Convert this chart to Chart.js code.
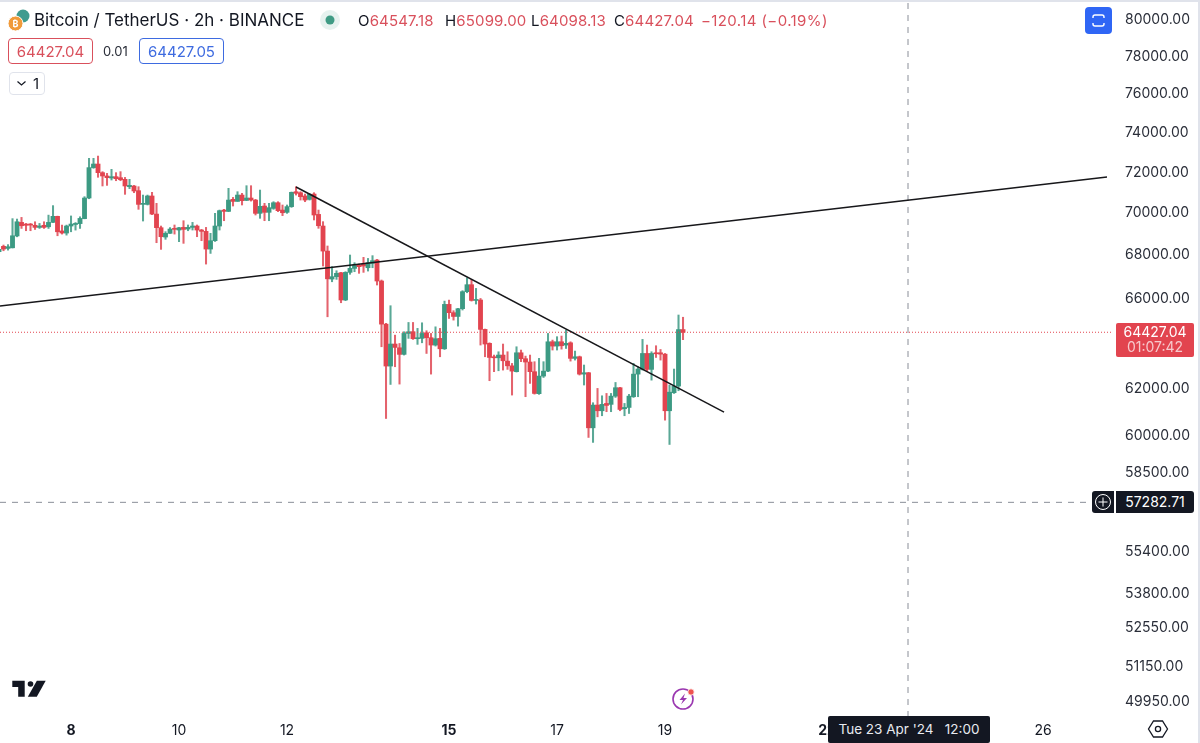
<!DOCTYPE html>
<html>
<head>
<meta charset="utf-8">
<title>Bitcoin / TetherUS</title>
<script src="https://cdn.jsdelivr.net/npm/chart.js@4"></script>
<style>
html,body{margin:0;padding:0;background:#fff;width:1200px;height:743px;overflow:hidden;font-family:Inter,"Noto Sans",sans-serif;color:#131722}
#wrap{position:relative;width:1200px;height:743px}
canvas{position:absolute;left:0;top:0}
.t{position:absolute;white-space:pre;line-height:1}
.r{color:#d9505c}
.box{position:absolute;box-sizing:border-box;border-radius:4px;text-align:center;white-space:pre}
svg{position:absolute;overflow:visible}
</style>
</head>
<body>
<div id="wrap">
<canvas id="c" width="1200" height="743"></canvas>
<div style="position:absolute;left:0;top:0;width:1200px;height:2px;background:#e0e3eb"></div>
<div style="position:absolute;left:1198px;top:0;width:2px;height:743px;background:#e0e3eb"></div>

<svg style="left:0;top:0" width="40" height="36">
 <circle cx="23" cy="16" r="6.5" fill="#3f9b8f"/><circle cx="15.5" cy="23.5" r="7.5" fill="#f09a3a" stroke="#fff" stroke-width="1"/>
 <text x="15.5" y="27" font-size="9" font-weight="700" fill="#fff" text-anchor="middle" font-family="Inter">₿</text>
</svg>
<div class="t" style="left:34px;top:12px;font-size:17px">Bitcoin / TetherUS · 2h · BINANCE</div>
<svg style="left:320px;top:10px" width="20" height="20"><circle cx="10" cy="10" r="10" fill="#e6f2ef"/><circle cx="10" cy="10" r="4.5" fill="#3f9b84"/></svg>
<div class="t" style="left:358px;top:13px;font-size:15px;letter-spacing:.15px">O<span class="r">64547.18</span></div>
<div class="t" style="left:445px;top:13px;font-size:15px;letter-spacing:.15px">H<span class="r">65099.00</span></div>
<div class="t" style="left:531px;top:13px;font-size:15px;letter-spacing:.15px">L<span class="r">64098.13</span></div>
<div class="t" style="left:614px;top:13px;font-size:15px;letter-spacing:.15px">C<span class="r">64427.04</span></div>
<div class="t r" style="left:701px;top:13px;font-size:15px;letter-spacing:.4px">−120.14 (−0.19%)</div>

<div class="box r" style="left:8px;top:38px;width:85px;height:26px;border:1px solid #d9505c;font-size:15px;line-height:25px">64427.04</div>
<div class="t" style="left:103px;top:45px;font-size:13px;color:#2a2e39">0.01</div>
<div class="box" style="left:139px;top:38px;width:85px;height:26px;border:1px solid #3e6be0;font-size:15px;line-height:25px;color:#3e6be0">64427.05</div>
<div class="box" style="left:9px;top:72px;width:36px;height:23px;border:1px solid #e0e3eb;font-size:15px;line-height:22px;text-align:left;padding-left:23px;color:#131722">1</div>
<svg style="left:16px;top:80px" width="12" height="8"><path d="M1.5 1.5 L5.5 5 L9.5 1.5" fill="none" stroke="#131722" stroke-width="1.2"/></svg>

<div style="position:absolute;left:1085px;top:7px;width:27px;height:27px;border-radius:4px;background:#2f66f5"></div>
<svg style="left:1085px;top:7px" width="27" height="27"><path d="M8 11 V10 a2 2 0 0 1 2-2 H17 a2 2 0 0 1 2 2 V11 M8 16 V17 a2 2 0 0 0 2 2 H17 a2 2 0 0 0 2-2 V16" fill="none" stroke="#fff" stroke-width="1.4"/></svg>

<div class="box" style="left:1116px;top:323px;width:78px;height:34px;background:#e2444f;color:#fff;font-size:14px;line-height:15px;padding-top:1px;border-radius:2px">64427.04
<span style="color:#f7c9cd">01:07:42</span></div>

<div class="box" style="left:1092px;top:491px;width:22px;height:22px;background:#131722;border-radius:3px 0 0 3px"></div>
<svg style="left:1092px;top:491px" width="22" height="22"><circle cx="11" cy="11" r="7.5" fill="none" stroke="#fff" stroke-width="1"/><path d="M11 6.5V15.5M6.5 11H15.5" stroke="#fff" stroke-width="1"/></svg>
<div class="box" style="left:1116px;top:491px;width:78px;height:22px;background:#131722;color:#fff;font-size:14px;line-height:22px;border-radius:0 3px 3px 0">57282.71</div>

<svg style="left:12px;top:680px" width="34" height="18" viewBox="0 0 34 18"><path fill="#131722" d="M0.3 0.7H12.7V16.7H6.2V7H0.3Z"/><circle cx="18.5" cy="4" r="2.8" fill="#131722"/><path fill="#131722" d="M24.8 0.7H33.7L24.8 16.7H15.8Z"/></svg>

<svg style="left:672px;top:687px" width="24" height="24"><circle cx="11" cy="12" r="10" fill="none" stroke="#9a37b0" stroke-width="1.6"/><path d="M13 6.5 L7.5 13 H11 L9 17.5 L15 11 H11.5Z" fill="#9a37b0"/><circle cx="19" cy="5" r="3.2" fill="#ef5350" stroke="#fff" stroke-width=".8"/></svg>

<svg style="left:1147px;top:719px" width="22" height="20"><path d="M6.5 2 H15.5 L20.5 10 L15.5 18 H6.5 L1.5 10Z" fill="none" stroke="#131722" stroke-width="1.3"/><circle cx="11" cy="10" r="2.6" fill="none" stroke="#131722" stroke-width="1.3"/></svg>

<div class="box" style="left:828px;top:716px;width:162px;height:27px;background:#131722;color:#e8eaf0;font-size:13.5px;line-height:26px;border-radius:2px">Tue 23 Apr '24   12:00</div>
</div>

<script>
// Candles of the BTC/USDT 2h chart, oldest first (one every two hours)
const firstCandleDay = 6 + 16 / 24; // 6 Apr 16:00
const opens = [
68120,68370,68270,68300,68860,69510,69430,69430,69370,69270,
69370,69300,69510,69800,69100,69000,69335,69410,69450,69690,
70690,72190,72370,71940,71775,71675,71740,71690,71610,71245,
71280,71050,70380,70380,70790,69910,69255,68810,68985,69220,
69143,69270,69190,69270,69335,69143,69080,68240,68635,69335,
70105,70040,70625,70525,70835,70575,70690,70590,69945,70300,
69995,70185,70460,70105,69995,70270,71000,70950,70790,70625,
70885,69895,69335,68145,66840,66950,67135,65880,67150,67335,
67490,67535,67365,67570,67725,66750,64790,62940,63905,63740,
63450,64375,64450,64140,64155,64405,64185,63860,64155,63695,
65680,65305,65135,65485,66260,66580,65860,65880,64555,63935,
63345,63300,63420,63155,62950,62695,63520,63260,63115,62695,
61750,62505,62720,64005,63815,64005,63860,63960,63275,63345,
62590,62650,60310,61265,61025,61335,61295,61645,62005,61110,
61165,61620,62590,62795,63490,62795,63520,63520,63460,61025,
61790,62075,64547.18];
const highs = [
68350,68430,68450,69690,69670,69750,69460,69460,69540,69460,
69540,69860,70320,69810,69380,69380,69820,69500,69780,70755,
72655,72655,72770,71990,71905,72105,71940,71990,71705,71610,
71310,71245,70835,70835,70970,70430,69335,69065,69260,69385,
69270,69590,69385,69510,69385,69175,69270,68985,69945,70105,
70140,71165,70720,71000,70920,71295,71295,70625,71080,70430,
70430,70510,70510,70350,70350,70985,71245,71000,70885,70920,
70950,70105,69545,68385,67415,67225,67150,67180,67960,67600,
67535,67850,67800,67930,67755,66795,64825,65620,64300,63930,
64450,64865,64865,64600,64850,64495,64375,64670,64600,65830,
65875,65395,65500,66305,66900,66825,66410,65950,64570,63960,
63420,63565,63905,63565,63055,63785,63640,63375,63420,63130,
63275,63130,64375,64080,64230,64260,64525,64005,63595,63375,
62985,62665,61365,61975,61660,61760,61760,62230,62020,61335,
61720,63055,62910,64110,63860,63565,63830,63665,63490,62120,
62810,65200,65099];
const lows = [
68040,68160,68190,68290,68820,69220,69110,69110,69170,69220,
69220,69220,69500,68870,68950,68900,69060,69140,69220,69680,
70655,72155,71710,71280,71310,71575,71540,71540,70870,71150,
70950,70140,69575,70350,69880,68540,68225,68700,68980,68950,
68590,68510,69110,69143,68825,68635,67535,68035,68600,69143,
69590,70025,70300,70525,70350,70560,70540,69865,69705,69590,
69590,70140,70025,69835,69945,70235,70835,70590,70510,70590,
69625,69225,67445,65120,66715,66825,65755,65850,67060,67180,
67105,67150,67210,67365,66565,63785,60700,62145,62910,62160,
63420,64155,64110,63890,63960,63490,62590,63815,63345,63665,
65045,64970,64700,65425,66210,65830,65695,63860,63345,62305,
62695,62735,62765,62795,61690,62680,63130,61620,62190,61730,
61720,62445,62695,63640,63640,63680,63710,63155,63200,62550,
62120,59910,59705,60770,60815,60985,60985,61590,61025,60815,
60910,61590,61620,62765,62735,62330,63315,63200,60630,59620,
61760,61875,64098.13];
const closes = [
68230,68240,68350,68870,69540,69350,69370,69380,69270,69335,
69270,69510,69800,69060,69000,69335,69430,69460,69700,70690,
72190,72370,71940,71775,71690,71740,71640,71590,71280,71310,
71035,70380,70430,70790,69910,69255,68825,68985,69190,69175,
69255,69175,69270,69335,69143,69080,68240,68635,69335,70075,
70040,70590,70525,70835,70560,70690,70590,69945,70285,69995,
70220,70460,70075,69975,70270,70970,70920,70755,70590,70870,
69865,69350,68145,66850,66950,67105,65880,67150,67335,67490,
67415,67445,67600,67695,66750,64790,62940,63905,63755,63450,
64375,64450,64140,64185,64375,64185,63860,64140,63695,65680,
65305,65135,65485,66260,66580,65860,65905,64555,63905,63315,
63300,63420,63170,62950,62720,63520,63260,63115,62695,61760,
62505,62720,64005,63815,64005,63830,63935,63275,63345,62590,
62650,60310,61265,61025,61295,61250,61645,62005,61080,61165,
61645,62590,62810,63490,62795,63490,63475,63460,61025,61815,
62075,64547,64427.04];

// Drawn lines (day of April, price)
const risingLineDays = [6.685, 27.185];
const risingLinePrices = [65605, 71724];
const fallingLineDays = [12.167, 20.093];
const fallingLinePrices = [71230, 60969];

// Price line and crosshair
const lastPrice = 64427.04;
const crossPrice = 57282.71;
const crossDay = 23.5;

// Axes
const priceTicks = [80000,78000,76000,74000,72000,70000,68000,66000,62000,60000,58500,55400,53800,52550,51150,49950];
const dayTicks = [8,10,12,15,17,19,22,24,26];
const boldDays = [8,15,22];
const dayMin = 6.685, dayMax = 27.296;
const priceMin = 49385, priceMax = 81057;

const GREEN = '#3c9a83', RED = '#e2444f', GREEN_W = '#5aa896', RED_W = '#e4636d';
const days = closes.map((_, i) => firstCandleDay + i / 12);
const isUp = i => closes[i] >= opens[i];

new Chart(document.getElementById('c'), {
  type: 'bar',
  data: {
    datasets: [
      { type:'bar', label:'wicks', order:5, grouped:false, barThickness:1.4, categoryPercentage:1, barPercentage:1,
        data: days.map((d,i)=>({x:d,y:[lows[i],highs[i]]})),
        backgroundColor: ctx => isUp(ctx.dataIndex) ? GREEN_W : RED_W },
      { type:'bar', label:'bodies', order:4, grouped:false, barThickness:4.2, categoryPercentage:1, barPercentage:1, minBarLength:1,
        data: days.map((d,i)=>({x:d,y:[opens[i],closes[i]]})),
        backgroundColor: ctx => isUp(ctx.dataIndex) ? GREEN : RED },
      { type:'line', label:'rising', order:1, pointRadius:0, borderWidth:1.5, borderColor:'#17171a',
        data: risingLineDays.map((d,i)=>({x:d,y:risingLinePrices[i]})) },
      { type:'line', label:'falling', order:1, pointRadius:0, borderWidth:1.5, borderColor:'#17171a',
        data: fallingLineDays.map((d,i)=>({x:d,y:fallingLinePrices[i]})) },
      { type:'line', label:'last', order:3, pointRadius:0, borderWidth:1, borderColor:RED, borderDash:[1,2],
        data: [{x:dayMin,y:lastPrice},{x:dayMax,y:lastPrice}] },
      { type:'line', label:'crossH', order:3, pointRadius:0, borderWidth:1, borderColor:'#8a8e98', borderDash:[6,6],
        data: [{x:dayMin,y:crossPrice},{x:dayMax,y:crossPrice}] },
      { type:'line', label:'crossV', order:3, pointRadius:0, borderWidth:1, borderColor:'#8a8e98', borderDash:[6,6],
        data: [{x:crossDay,y:priceMin},{x:crossDay,y:priceMax}] }
    ]
  },
  options: {
    responsive:false, animation:false, events:[],
    layout:{padding:0},
    plugins:{legend:{display:false},tooltip:{enabled:false},title:{display:false}},
    scales:{
      x:{ type:'linear', offset:false, min:dayMin, max:dayMax, bounds:'data',
        grid:{display:false,drawTicks:false}, border:{display:false},
        afterBuildTicks:s=>{s.ticks=dayTicks.map(v=>({value:v}));},
        afterFit:s=>{s.height=26;s.paddingLeft=0;s.paddingRight=0;},
        ticks:{ autoSkip:false, maxRotation:0, padding:5, color:'#131722',
          callback:v=>String(v),
          font:ctx=>({family:'Inter',size:14,weight:boldDays.includes(ctx.tick&&ctx.tick.value)?'700':'400'}) } },
      y:{ type:'logarithmic', position:'right', min:priceMin, max:priceMax, bounds:'data',
        grid:{display:false,drawTicks:false}, border:{display:false},
        afterBuildTicks:s=>{s.ticks=priceTicks.map(v=>({value:v}));},
        afterFit:s=>{
          s.width=87;s.paddingTop=0;s.paddingBottom=0;
          if(!s._labelNudge){
            s._labelNudge=true;
            const compute=s._computeLabelItems;
            s._computeLabelItems=function(a){
              const items=compute.call(this,a);
              items.forEach(it=>{it.options.translation[1]+=1;});
              return items;
            };
          }
        },
        ticks:{ autoSkip:false, padding:12, color:'#2a2e39', callback:v=>v.toFixed(2), font:{family:'Inter',size:14} } }
    }
  }
});
</script>
</body>
</html>
